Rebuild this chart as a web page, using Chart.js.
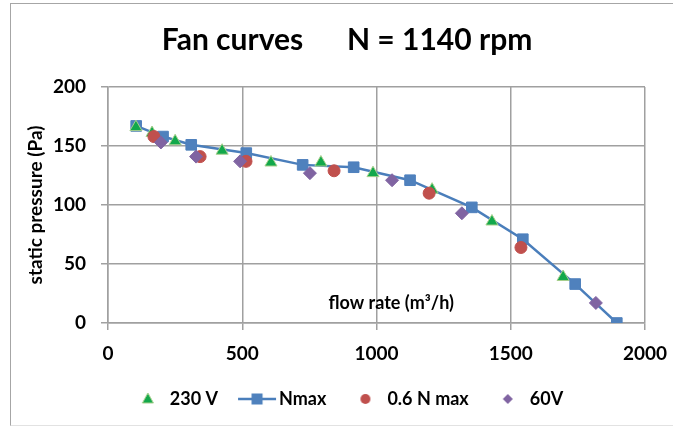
<!DOCTYPE html>
<html>
<head>
<meta charset="utf-8">
<script src="https://cdn.jsdelivr.net/npm/chart.js@4.4.1/dist/chart.umd.min.js"></script>
<style>
  html, body { margin: 0; padding: 0; background: #fff; overflow: hidden; }
  #frame {
    position: absolute; left: 10px; top: 3px;
    width: 672px; height: 421px;
    border: 1px solid #a6a6a6; border-bottom-color: #e2e2e2;
  }
  canvas { display: block; }
</style>
</head>
<body>
<div id="frame"><canvas id="fan" width="672" height="421"></canvas></div>
<script>
// values (flow rate m3/h, static pressure Pa)
const flow230 = [104, 164, 250, 425, 607, 793, 987, 1207, 1430, 1695];
const pres230 = [166, 161, 154, 146, 136, 136, 127, 113, 86, 39];

const flowNmax = [105, 205, 310, 515, 725, 915, 1125, 1355, 1545, 1740, 1895];
const presNmax = [167, 158, 151, 144, 134, 132, 121, 98, 71, 33, 0];

const flow06 = [171, 343, 514, 842, 1196, 1538];
const pres06 = [158, 141, 137, 129, 110, 64];

const flow60 = [197, 328, 492, 752, 1058, 1318, 1817];
const pres60 = [153, 141, 137, 127, 121, 93, 17];

const xTicks = [0, 500, 1000, 1500, 2000];
const yTicks = [0, 50, 100, 150, 200];

const chartTitle = 'Fan curves      N = 1140 rpm';
const xTitle = 'flow rate (m\u00b3/h)';
const xTitleAt = { x: 1055, y: 17 };
const yTitle = 'static pressure (Pa)';

const FONT = 'Lato';
const gridColor = '#a0a0a0';

const toPoints = (xs, ys) => xs.map((x, i) => ({ x: x, y: ys[i] }));

// small pictures used as legend symbols
function legendIcon(kind) {
  const c = document.createElement('canvas');
  c.width = 60; c.height = 20;
  const g = c.getContext('2d');
  const cx = 32, cy = 10;
  if (kind === 'triangle') {
    g.fillStyle = '#12a84b';
    g.strokeStyle = '#a8d08d';
    g.beginPath();
    g.moveTo(cx, cy - 6); g.lineTo(cx + 5.5, cy + 4); g.lineTo(cx - 5.5, cy + 4);
    g.closePath(); g.fill(); g.stroke();
  } else if (kind === 'line') {
    g.strokeStyle = '#4a7ebb'; g.lineWidth = 2.5;
    g.beginPath(); g.moveTo(13, cy); g.lineTo(51, cy); g.stroke();
    g.fillStyle = '#4f81bd';
    g.fillRect(cx - 5.5, cy - 5.5, 11, 11);
  } else if (kind === 'circle') {
    g.fillStyle = '#c0504d';
    g.beginPath(); g.arc(cx, cy, 5, 0, Math.PI * 2); g.fill();
  } else {
    g.fillStyle = '#8064a2';
    g.beginPath();
    g.moveTo(cx, cy - 5); g.lineTo(cx + 5, cy); g.lineTo(cx, cy + 5); g.lineTo(cx - 5, cy);
    g.closePath(); g.fill();
  }
  return c;
}
const legendIcons = [legendIcon('triangle'), legendIcon('line'), legendIcon('circle'), legendIcon('diamond')];

const xTitlePlugin = {
  id: 'xTitleInside',
  afterDraw(chart) {
    const { ctx, scales } = chart;
    ctx.save();
    ctx.font = 'bold 18px ' + FONT;
    ctx.fillStyle = '#000';
    ctx.textAlign = 'center';
    ctx.textBaseline = 'middle';
    ctx.fillText(xTitle, scales.x.getPixelForValue(xTitleAt.x), scales.y.getPixelForValue(xTitleAt.y));
    ctx.restore();
  }
};

const plainNumber = v => String(v);

new Chart(document.getElementById('fan'), {
  type: 'scatter',
  data: {
    datasets: [
      {
        label: '230 V',
        data: toPoints(flow230, pres230),
        pointStyle: 'triangle',
        pointRadius: 7,
        backgroundColor: '#12a84b',
        borderColor: '#a8d08d',
        borderWidth: 1,
        order: 3
      },
      {
        label: 'Nmax',
        data: toPoints(flowNmax, presNmax),
        showLine: true,
        tension: 0,
        borderColor: '#4a7ebb',
        borderWidth: 2.5,
        pointStyle: 'rect',
        pointRadius: 7.5,
        pointBackgroundColor: '#4f81bd',
        pointBorderColor: '#4f81bd',
        pointBorderWidth: 1,
        order: 4
      },
      {
        label: '0.6 N max',
        data: toPoints(flow06, pres06),
        pointStyle: 'circle',
        pointRadius: 6,
        backgroundColor: '#c0504d',
        borderColor: '#c0504d',
        order: 2
      },
      {
        label: '60V',
        data: toPoints(flow60, pres60),
        pointStyle: 'rectRot',
        pointRadius: 6.5,
        backgroundColor: '#8064a2',
        borderColor: '#8064a2',
        order: 1
      }
    ]
  },
  options: {
    responsive: false,
    animation: false,
    events: [],
    layout: { padding: { left: 38, right: 38, top: 0, bottom: 7 } },
    plugins: {
      tooltip: { enabled: false },
      title: {
        display: true,
        text: chartTitle,
        color: '#000',
        font: { family: FONT, size: 30, weight: 'bold' },
        padding: { top: 18, bottom: 29 }
      },
      legend: {
        position: 'bottom',
        labels: {
          usePointStyle: true,
          pointStyleWidth: 30,
          padding: 22,
          color: '#000',
          font: { family: FONT, size: 18, weight: 'bold' },
          sort: (a, b) => a.datasetIndex - b.datasetIndex,
          generateLabels(chart) {
            const items = Chart.defaults.plugins.legend.labels.generateLabels(chart);
            items.forEach(it => { it.pointStyle = legendIcons[it.datasetIndex]; });
            return items;
          }
        }
      }
    },
    scales: {
      x: {
        type: 'linear',
        min: 0,
        max: 2000,
        afterBuildTicks(scale) { scale.ticks = xTicks.map(v => ({ value: v })); },
        afterFit(scale) { scale.height = 45; },
        grid: { color: gridColor, lineWidth: 1.5, tickLength: 7 },
        border: { color: gridColor, width: 1.5 },
        ticks: {
          padding: 12,
          color: '#000',
          font: { family: FONT, size: 19, weight: 'bold' },
          callback: plainNumber
        }
      },
      y: {
        type: 'linear',
        min: 0,
        max: 200,
        afterBuildTicks(scale) { scale.ticks = yTicks.map(v => ({ value: v })); },
        afterFit(scale) { scale.width = 59; },
        grid: { color: gridColor, lineWidth: 1.5, tickLength: 7 },
        border: { color: gridColor, width: 1.5 },
        ticks: {
          padding: 15,
          color: '#000',
          font: { family: FONT, size: 19, weight: 'bold' },
          callback: plainNumber
        },
        title: {
          display: true,
          text: yTitle,
          color: '#000',
          font: { family: FONT, size: 19, weight: 'bold' },
          padding: { top: -24.4, bottom: 0 }
        }
      }
    }
  },
  plugins: [xTitlePlugin]
});
</script>
</body>
</html>
